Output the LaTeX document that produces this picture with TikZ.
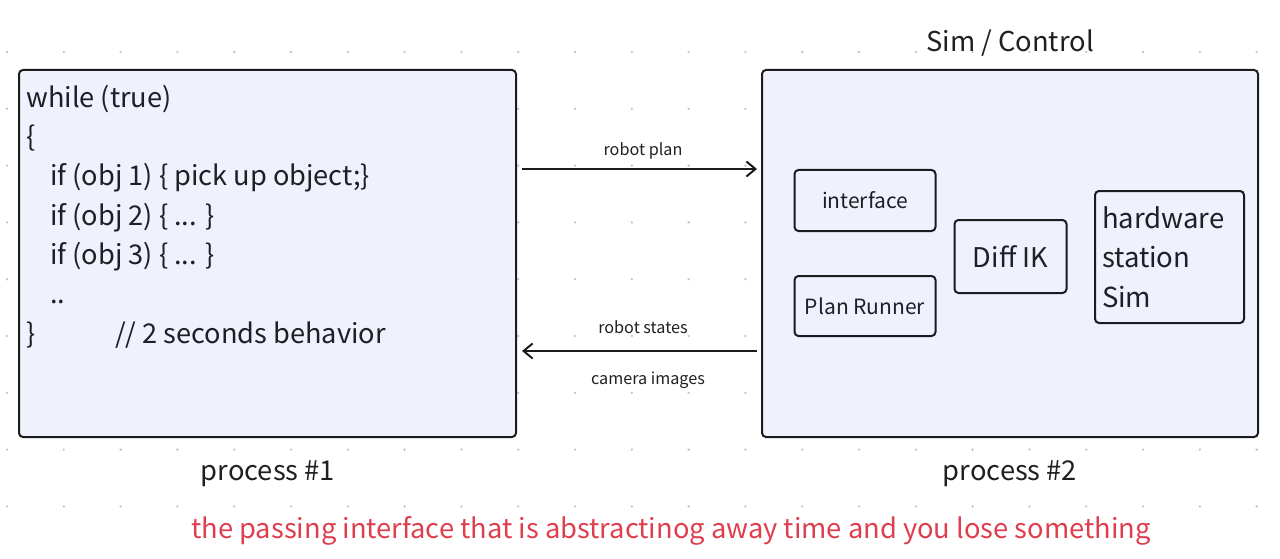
\documentclass[tikz,border=0pt]{standalone}
\usepackage{fontspec}
\setmainfont{Noto Sans CJK SC}
\usetikzlibrary{arrows.meta}
\definecolor{boxfill}{RGB}{239,241,253}
\definecolor{linedark}{RGB}{28,28,30}
\definecolor{textdark}{RGB}{30,32,36}
\definecolor{dotgray}{RGB}{196,196,200}
\definecolor{notered}{RGB}{222,62,78}
\begin{document}
\begin{tikzpicture}[x=1pt,y=-1pt,
  procbox/.style={draw=linedark,line width=2pt,fill=boxfill,rounded corners=4pt,inner sep=0pt},
  partbox/.style={procbox,text=textdark,font=\fontsize{21}{25}\selectfont},
  biglabel/.style={font=\fontsize{27.3}{32}\selectfont,text=textdark,inner sep=0pt,anchor=base},
  msg/.style={font=\fontsize{16.2}{19}\selectfont,text=textdark,inner sep=0pt,anchor=base},
  link/.style={draw=linedark,line width=2pt,-{Straight Barb[length=9pt,width=15pt]}}]
\useasboundingbox (0,0) rectangle (1280,559);
% Grid of dots behind everything
\foreach \i in {0,...,22}
  \foreach \j in {0,...,8}
    \fill[dotgray] (7+56.8*\i,52+56.8*\j) circle (1.3pt);
% The two processes
\node[procbox,minimum width=497pt,minimum height=367pt] (proc1) at (267.5,253.5) {};
\node[procbox,minimum width=496pt,minimum height=367pt] (proc2) at (1010,253.5) {};
% Behavior loop in process 1 (base is the last line)
\node[font=\fontsize{27.2}{39.3}\selectfont,text=textdark,align=left,inner sep=0pt,anchor=base west] (loop) at (26,343)
  {while (true)\\
   \{\\
   \hspace*{24pt}if (obj 1) \{ pick up object;\}\\
   \hspace*{24pt}if (obj 2) \{ ... \}\\
   \hspace*{24pt}if (obj 3) \{ ... \}\\
   \hspace*{24pt}..\\
   \makebox[89pt][l]{\}}// 2 seconds behavior};
% Systems in process 2
\node[partbox,minimum width=141pt,minimum height=61pt] (iface) at (865,200.5) {interface};
\node[partbox,minimum width=141pt,minimum height=60pt] (runner) at (865,306) {Plan Runner};
\node[partbox,minimum width=112pt,minimum height=73pt,font=\fontsize{27.1}{32}\selectfont] (diffik) at (1010.5,256.5) {Diff IK};
\node[partbox,minimum width=149pt,minimum height=132pt,font=\fontsize{27.5}{39.5}\selectfont,
  align=left,text width=135pt,inner xsep=7pt] (station) at (1169.5,257) {hardware\\station\\Sim};
% Labels
\node[biglabel] (simlabel) at (1010,52) {Sim / Control};
\node[biglabel] (proc1label) at (268,480) {process \#1};
\node[biglabel] (proc2label) at (1010,480) {process \#2};
\node[biglabel,text=notered] (note) at (671,538) {the passing interface that is abstractinog away time and you lose something};
% Messages between the processes
\draw[link] ([xshift=5pt,yshift=84.5pt]proc1.east) -- ([xshift=-4pt,yshift=84.5pt]proc2.west);
\draw[link] ([xshift=-4pt,yshift=-97.5pt]proc2.west) -- ([xshift=5pt,yshift=-97.5pt]proc1.east);
\node[msg] (plan) at (643,156) {robot plan};
\node[msg] (states) at (643,333) {robot states};
\node[msg] (images) at (648,384) {camera images};
\end{tikzpicture}
\end{document}
